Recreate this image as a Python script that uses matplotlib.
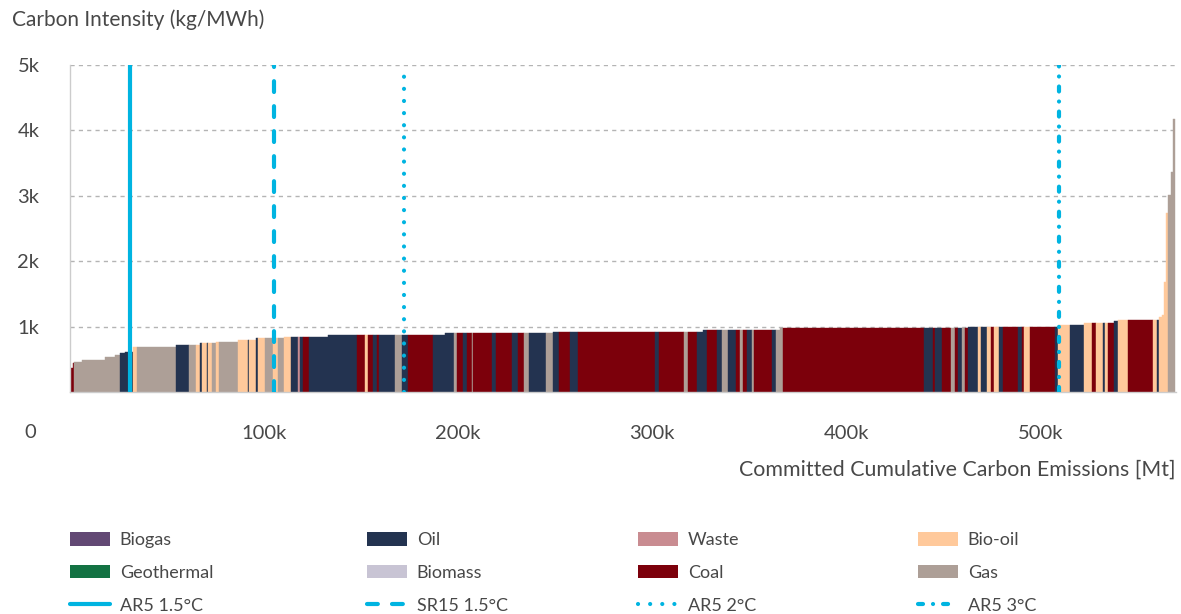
import numpy as np
import matplotlib.pyplot as plt
from matplotlib.patches import Patch
from matplotlib.lines import Line2D

plt.rcParams['font.family'] = ['Lato', 'DejaVu Sans']

# plants sorted by carbon intensity: fuel, cumulative emissions at right edge (Mt), intensity (kg/MWh)
fuel = ['Coal', 'Coal', 'Coal', 'Gas', 'Gas', 'Gas', 'Gas', 'Oil', 'Oil', 'Bio-oil',
        'Gas', 'Oil', 'Gas', 'Bio-oil', 'Oil', 'Bio-oil', 'Oil', 'Bio-oil', 'Gas', 'Bio-oil',
        'Gas', 'Bio-oil', 'Oil', 'Bio-oil', 'Oil', 'Bio-oil', 'Gas', 'Bio-oil', 'Gas', 'Bio-oil',
        'Oil', 'Waste', 'Oil', 'Coal', 'Oil', 'Oil', 'Coal', 'Bio-oil', 'Coal', 'Oil',
        'Coal', 'Oil', 'Gas', 'Oil', 'Coal', 'Oil', 'Oil', 'Gas', 'Coal', 'Oil',
        'Coal', 'Gas', 'Coal', 'Oil', 'Coal', 'Oil', 'Coal', 'Gas', 'Oil', 'Gas',
        'Oil', 'Coal', 'Oil', 'Coal', 'Oil', 'Coal', 'Gas', 'Coal', 'Oil', 'Oil',
        'Coal', 'Oil', 'Gas', 'Oil', 'Coal', 'Gas', 'Coal', 'Oil', 'Gas', 'Coal',
        'Oil', 'Gas', 'Gas', 'Coal', 'Oil', 'Coal', 'Oil', 'Coal', 'Gas', 'Coal',
        'Oil', 'Gas', 'Coal', 'Oil', 'Bio-oil', 'Oil', 'Bio-oil', 'Coal', 'Bio-oil', 'Oil',
        'Coal', 'Oil', 'Coal', 'Bio-oil', 'Coal', 'Oil', 'Bio-oil', 'Oil', 'Bio-oil', 'Coal',
        'Bio-oil', 'Oil', 'Bio-oil', 'Coal', 'Oil', 'Bio-oil', 'Coal', 'Bio-oil', 'Oil', 'Bio-oil',
        'Bio-oil', 'Bio-oil', 'Bio-oil', 'Gas', 'Gas', 'Gas']
cum_emissions = [500, 1400, 2100, 6000, 18000, 23200, 25800, 28400, 32300, 34400,
                 54600, 61300, 64900, 67000, 67900, 70500, 71100, 73000, 75300, 77000,
                 86800, 91600, 92300, 95900, 96800, 100500, 104800, 107400, 110300, 113800,
                 117700, 118600, 120300, 123400, 133100, 148100, 152100, 153800, 156000, 158100,
                 159300, 167500, 171000, 174400, 187300, 193300, 197900, 199600, 202700, 204500,
                 207100, 207900, 217700, 219600, 227600, 231100, 234000, 236800, 245200, 248800,
                 252200, 257700, 262000, 301500, 303800, 316600, 318700, 323000, 326400, 328500,
                 333700, 335900, 339000, 343300, 345400, 347100, 348800, 351400, 352600, 361700,
                 363900, 366000, 367700, 440200, 444700, 445900, 449600, 454000, 456200, 457900,
                 459600, 461300, 463000, 467700, 469600, 472800, 474700, 476300, 479000, 480800,
                 488800, 490600, 491900, 494500, 507700, 509000, 515500, 522800, 526600, 528900,
                 532300, 533500, 535200, 537800, 540000, 545500, 558400, 560200, 561200, 562700,
                 563900, 564900, 566100, 567300, 568300, 569500]
intensity = [310, 365, 440, 458, 489, 530, 565, 595, 615, 682,
             682, 718, 718, 718, 743, 743, 743, 743, 750, 763,
             763, 794, 794, 794, 820, 820, 820, 820, 820, 845,
             845, 845, 845, 845, 845, 870, 870, 870, 870, 870,
             870, 870, 870, 870, 870, 870, 895, 895, 895, 895,
             895, 895, 895, 895, 895, 895, 895, 895, 895, 895,
             921, 921, 921, 921, 921, 921, 921, 921, 921, 947,
             947, 947, 947, 947, 947, 947, 947, 947, 947, 947,
             947, 947, 972, 972, 982, 982, 982, 982, 982, 982,
             982, 982, 982, 990, 997, 997, 997, 997, 997, 997,
             997, 997, 997, 997, 1000, 1000, 1023, 1023, 1049, 1049,
             1049, 1049, 1049, 1060, 1084, 1099, 1099, 1099, 1099, 1140,
             1175, 1684, 2737, 3008, 3363, 4178]

fuel_colors = {'Biogas': '#624874', 'Oil': '#233350', 'Waste': '#c98c91', 'Bio-oil': '#ffc99b',
               'Geothermal': '#137243', 'Biomass': '#c8c4d4', 'Coal': '#7c000b', 'Gas': '#ad9f97'}

# carbon budgets (Mt)
budget_names = ['AR5 1.5°C', 'SR15 1.5°C', 'AR5 2°C', 'AR5 3°C']
budget_values = [30800, 104900, 172200, 509800]

cyan = '#00b4e1'
lw = 3.0
budget_styles = ['-', (0, (2.6, 3.4)), (0, (0.01, 2.9)), (0, (1.2, 2.4, 0.01, 2.4))]

text_color = '#484848'

fig = plt.figure(figsize=(11.81, 6.14), dpi=100)
ax = fig.add_axes([70 / 1181, 1 - 392 / 614, 1106 / 1181, 327 / 614])

right = np.array(cum_emissions, dtype=float)
left = np.concatenate([[0], right[:-1]])
ax.bar(left, intensity, width=right - left, align='edge',
       color=[fuel_colors[f] for f in fuel], edgecolor=[fuel_colors[f] for f in fuel],
       linewidth=0.3, zorder=2)

for v, st in zip(budget_values, budget_styles):
    ax.axvline(v, color=cyan, lw=lw, linestyle=st, dash_capstyle='round',
               solid_capstyle='butt', zorder=3)

ax.set_xlim(0, 570000)
ax.set_ylim(0, 5000)
ax.set_yticks([1000, 2000, 3000, 4000, 5000])
ax.set_yticklabels(['1k', '2k', '3k', '4k', '5k'])
ax.set_xticks([100000, 200000, 300000, 400000, 500000])
ax.set_xticklabels(['100k', '200k', '300k', '400k', '500k'])
ax.tick_params(length=0, labelsize=14.5, colors=text_color)
ax.tick_params(axis='x', pad=24)
ax.tick_params(axis='y', pad=22)
ax.grid(axis='y', color='#b4b4b4', linestyle=(0, (3, 3)), linewidth=1, zorder=0)
for s in ['top', 'right']:
    ax.spines[s].set_visible(False)
for s in ['left', 'bottom']:
    ax.spines[s].set_color('#cccccc')
    ax.spines[s].set_linewidth(1)

fig.text(30 / 1181, 1 - 432 / 614, '0', fontsize=14.5, color=text_color, ha='center', va='center')
fig.text(12 / 1181, 1 - 20 / 614, 'Carbon Intensity (kg/MWh)', fontsize=15, color=text_color,
         ha='left', va='center')
fig.text(1176 / 1181, 1 - 470 / 614, 'Committed Cumulative Carbon Emissions [Mt]', fontsize=15.4,
         color=text_color, ha='right', va='center')

# legend, one column at a time
legend_cols = [['Biogas', 'Geothermal', 0], ['Oil', 'Biomass', 1],
               ['Waste', 'Coal', 2], ['Bio-oil', 'Gas', 3]]
col_x = [70, 367, 638, 918]
for (f1, f2, bi), cx in zip(legend_cols, col_x):
    handles = [Patch(facecolor=fuel_colors[f1]), Patch(facecolor=fuel_colors[f2]),
               Line2D([0], [0], color=cyan, lw=lw, linestyle=budget_styles[bi],
                      dash_capstyle='round', solid_capstyle='round')]
    labels = [f1, f2, budget_names[bi]]
    fig.legend(handles, labels, loc='upper left', bbox_to_anchor=(cx / 1181, 1 - 532 / 614),
               frameon=False, fontsize=13, handlelength=2.2, handleheight=0.78,
               handletextpad=0.55, labelspacing=0.93, borderpad=0, borderaxespad=0,
               labelcolor=text_color)

fig.savefig('out.png', dpi=100)
